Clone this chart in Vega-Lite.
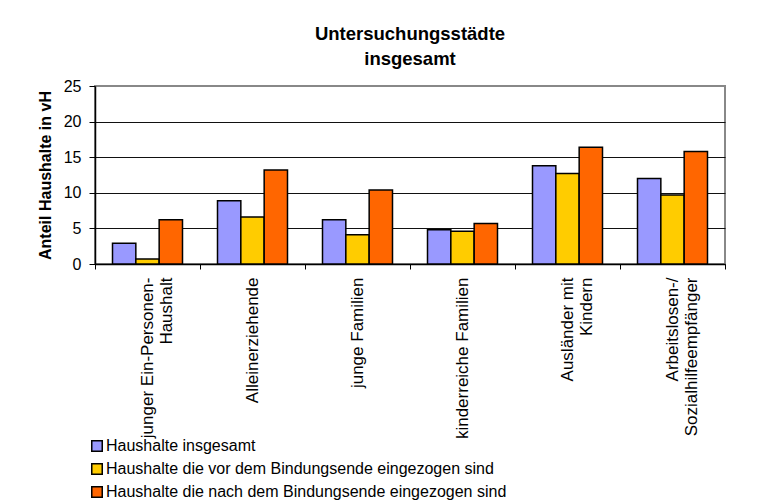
{
  "$schema": "https://vega.github.io/schema/vega-lite/v6.json",
  "width": 630,
  "height": 178,
  "autosize": {"type": "none"},
  "padding": {"left": 95, "top": 86, "right": 44, "bottom": 239},
  "background": "white",
  "title": {
    "text": ["Untersuchungsstädte", "insgesamt"],
    "font": "Liberation Sans",
    "fontSize": 18.5,
    "fontWeight": "bold",
    "color": "black",
    "anchor": "middle",
    "lineHeight": 25,
    "offset": 10
  },
  "data": {
    "values": [
      {"Gruppe": "junger Ein-Personen-Haushalt", "Reihe": "Haushalte insgesamt", "Anteil": 2.9},
      {"Gruppe": "junger Ein-Personen-Haushalt", "Reihe": "Haushalte die vor dem Bindungsende eingezogen sind", "Anteil": 0.7},
      {"Gruppe": "junger Ein-Personen-Haushalt", "Reihe": "Haushalte die nach dem Bindungsende eingezogen sind", "Anteil": 6.2},
      {"Gruppe": "Alleinerziehende", "Reihe": "Haushalte insgesamt", "Anteil": 8.9},
      {"Gruppe": "Alleinerziehende", "Reihe": "Haushalte die vor dem Bindungsende eingezogen sind", "Anteil": 6.6},
      {"Gruppe": "Alleinerziehende", "Reihe": "Haushalte die nach dem Bindungsende eingezogen sind", "Anteil": 13.2},
      {"Gruppe": "junge Familien", "Reihe": "Haushalte insgesamt", "Anteil": 6.2},
      {"Gruppe": "junge Familien", "Reihe": "Haushalte die vor dem Bindungsende eingezogen sind", "Anteil": 4.1},
      {"Gruppe": "junge Familien", "Reihe": "Haushalte die nach dem Bindungsende eingezogen sind", "Anteil": 10.4},
      {"Gruppe": "kinderreiche Familien", "Reihe": "Haushalte insgesamt", "Anteil": 4.8},
      {"Gruppe": "kinderreiche Familien", "Reihe": "Haushalte die vor dem Bindungsende eingezogen sind", "Anteil": 4.6},
      {"Gruppe": "kinderreiche Familien", "Reihe": "Haushalte die nach dem Bindungsende eingezogen sind", "Anteil": 5.7},
      {"Gruppe": "Ausländer mit Kindern", "Reihe": "Haushalte insgesamt", "Anteil": 13.8},
      {"Gruppe": "Ausländer mit Kindern", "Reihe": "Haushalte die vor dem Bindungsende eingezogen sind", "Anteil": 12.7},
      {"Gruppe": "Ausländer mit Kindern", "Reihe": "Haushalte die nach dem Bindungsende eingezogen sind", "Anteil": 16.4},
      {"Gruppe": "Arbeitslosen-/Sozialhilfeempfänger", "Reihe": "Haushalte insgesamt", "Anteil": 12.0},
      {"Gruppe": "Arbeitslosen-/Sozialhilfeempfänger", "Reihe": "Haushalte die vor dem Bindungsende eingezogen sind", "Anteil": 9.7},
      {"Gruppe": "Arbeitslosen-/Sozialhilfeempfänger", "Reihe": "Haushalte die nach dem Bindungsende eingezogen sind", "Anteil": 15.8}
    ]
  },
  "mark": {"type": "bar", "stroke": "black", "strokeWidth": 1.5},
  "encoding": {
    "x": {
      "field": "Gruppe",
      "type": "nominal",
      "sort": null,
      "scale": {"paddingInner": 0, "paddingOuter": 0},
      "axis": {
        "title": null,
        "labelAngle": 270,
        "labelAlign": "right",
        "labelBaseline": "middle",
        "labelFont": "Liberation Sans",
        "labelFontSize": 17,
        "labelColor": "black",
        "labelLineHeight": 19,
        "labelPadding": 8,
        "labelLimit": 400,
        "labelOverlap": false,
        "tickBand": "extent",
        "tickSize": 5,
        "tickColor": "black",
        "domainColor": "black",
        "domainWidth": 1.5,
        "labelExpr": "datum.value == 'junger Ein-Personen-Haushalt' ? ['junger Ein-Personen-', 'Haushalt\u00a0\u00a0\u00a0\u00a0\u00a0\u00a0\u00a0\u00a0\u00a0\u00a0'] : datum.value == 'Ausländer mit Kindern' ? ['Ausländer mit', 'Kindern\u00a0\u00a0\u00a0\u00a0\u00a0'] : datum.value == 'Arbeitslosen-/Sozialhilfeempfänger' ? ['Arbeitslosen-/\u00a0\u00a0\u00a0\u00a0\u00a0\u00a0', 'Sozialhilfeempfänger'] : datum.value"
      }
    },
    "xOffset": {
      "field": "Reihe",
      "type": "nominal",
      "sort": ["Haushalte insgesamt", "Haushalte die vor dem Bindungsende eingezogen sind", "Haushalte die nach dem Bindungsende eingezogen sind"],
      "scale": {"paddingInner": 0, "paddingOuter": 0.75}
    },
    "y": {
      "field": "Anteil",
      "type": "quantitative",
      "scale": {"domain": [0, 25], "nice": false},
      "axis": {
        "title": "Anteil Haushalte in vH",
        "titleFont": "Liberation Sans",
        "titleFontSize": 16,
        "titleFontWeight": "bold",
        "titleColor": "black",
        "titlePadding": 10,
        "values": [0, 5, 10, 15, 20, 25],
        "labelFont": "Liberation Sans",
        "labelFontSize": 16,
        "labelColor": "black",
        "labelPadding": 8,
        "tickSize": 6,
        "tickColor": "black",
        "domainColor": "black",
        "domainWidth": 1.5,
        "grid": true,
        "gridColor": {"condition": {"test": "datum.value == 25", "value": "#888888"}, "value": "#111111"},
        "gridWidth": 1
      }
    },
    "fill": {
      "field": "Reihe",
      "type": "nominal",
      "scale": {
        "domain": ["Haushalte insgesamt", "Haushalte die vor dem Bindungsende eingezogen sind", "Haushalte die nach dem Bindungsende eingezogen sind"],
        "range": ["#9999FF", "#FFCC00", "#FF6600"]
      },
      "legend": {
        "title": null,
        "orient": "none",
        "legendX": -6,
        "legendY": 352,
        "symbolType": "square",
        "symbolSize": 110,
        "symbolStrokeColor": "black",
        "symbolStrokeWidth": 1.5,
        "symbolOpacity": 1,
        "labelFont": "Liberation Sans",
        "labelFontSize": 16,
        "labelColor": "black",
        "labelLimit": 500,
        "labelOffset": 1,
        "rowPadding": 5
      }
    }
  },
  "config": {
    "view": {"stroke": "#888888", "strokeWidth": 2},
    "font": "Liberation Sans"
  }
}
